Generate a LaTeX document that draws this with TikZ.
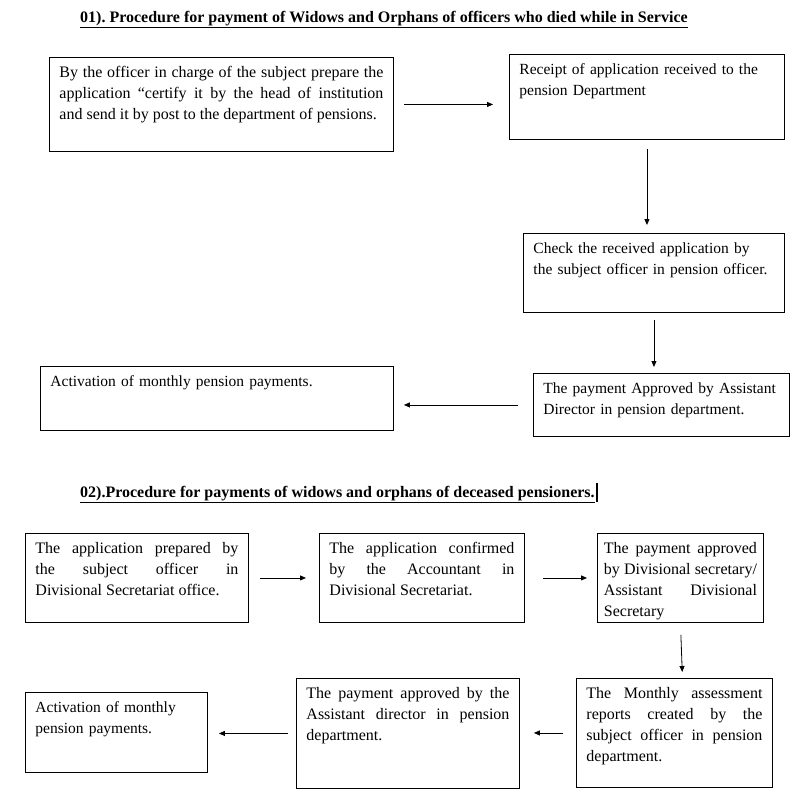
\documentclass[tikz,border=0pt]{standalone}
\usepackage{fontspec}
\setmainfont{Liberation Serif}
\usepackage{tikz}
\usetikzlibrary{arrows.meta,positioning,calc}
\hyphenpenalty=10000
\exhyphenpenalty=10000
\frenchspacing

\begin{document}
\begin{tikzpicture}[
	x=1pt, y=-1pt,
	stage/.style={rectangle, draw, line width=0.9pt, anchor=north west, inner xsep=10pt, inner ysep=6pt, text height=14pt, align=justify, font=\fontsize{16}{21}\selectfont},
	plain/.style={stage, align=left, font=\fontsize{15.5}{21.5}\selectfont},
	flow/.style={-{Triangle[length=6pt,width=5pt]}, line width=0.8pt},
	heading/.style={anchor=base west, inner sep=0pt, font=\fontsize{16}{19}\selectfont\bfseries}
	]
	\useasboundingbox (0,0) rectangle (796,811);

	\node[heading] (T1) at (80,22) {\underline{01). Procedure for payment of Widows and Orphans of officers who died while in Service}};

	\node[stage, text width=324pt, text depth=68pt] (A1) at (49,57) {By the officer in charge of the subject prepare the\linebreak application ``certify it by the head of institution\linebreak and send it by post to the department of pensions.};
	\node[plain, text width=255pt, text depth=59pt] (A2) at (509,54) {Receipt of application received to the\\pension Department};
	\node[plain, text width=241pt, text depth=53pt] (A3) at (523,233) {Check the received application by\\the subject officer in pension officer.};
	\node[plain, text width=236pt, text depth=37pt] (A4) at (533,373) {The payment Approved by Assistant\\Director in pension department.};
	\node[plain, text width=333pt, text depth=38pt] (A5) at (40,366) {Activation of monthly pension payments.};

	\draw[flow, shorten <=10pt, shorten >=16pt] (A1.east) -- (A1.east -| A2.west);
	\draw[flow, shorten <=9pt, shorten >=8pt] (A2.south) -- (A2.south |- A3.north);
	\draw[flow, shorten <=7pt, shorten >=6pt] (A3.south) -- (A3.south |- A4.north);
	\draw[flow, shorten <=15pt, shorten >=10pt] (A4.west) -- (A4.west -| A5.east);

	\node[heading] (T2) at (80,497) {\underline{02).Procedure for payments of widows and orphans of deceased pensioners.}};
	\draw[line width=1.6pt] ([xshift=2pt]T2.base east) ++(0,5) -- ++(0,-19);

	\node[stage, text width=203pt, text depth=63pt] (B1) at (25,533) {The application prepared by\linebreak the subject officer in\linebreak Divisional Secretariat office.};
	\node[stage, text width=185pt, text depth=63pt] (B2) at (319,533) {The application confirmed\linebreak by the Accountant in\linebreak Divisional Secretariat.};
	\node[stage, inner xsep=6.5pt, text width=153pt, text depth=63pt] (B3) at (597,533) {The payment approved\linebreak by Divisional secretary/\linebreak Assistant Divisional\linebreak Secretary};
	\node[stage, text width=176pt, text depth=83pt] (B6) at (576,678) {The Monthly assessment\linebreak reports created by the\linebreak subject officer in pension\linebreak department.};
	\node[stage, text width=203pt, text depth=84pt] (B5) at (296,678) {The payment approved by the\linebreak Assistant director in pension\linebreak department.};
	\node[plain, text width=162pt, text depth=54pt] (B4) at (25,692) {Activation of monthly\\pension payments.};

	\draw[flow, shorten <=11pt, shorten >=13pt] (B1.east) -- (B1.east -| B2.west);
	\draw[flow, shorten <=18pt, shorten >=10pt] (B2.east) -- (B2.east -| B3.west);
	\draw[flow, shorten <=12pt, shorten >=6pt] (B3.south) -- ([xshift=2pt]B3.south |- B6.north);
	\draw[flow, shorten <=13pt, shorten >=14pt] (B6.west) -- (B6.west -| B5.east);
	\draw[flow, shorten <=8pt, shorten >=11pt] (B5.west) -- (B5.west -| B4.east);
\end{tikzpicture}
\end{document}
